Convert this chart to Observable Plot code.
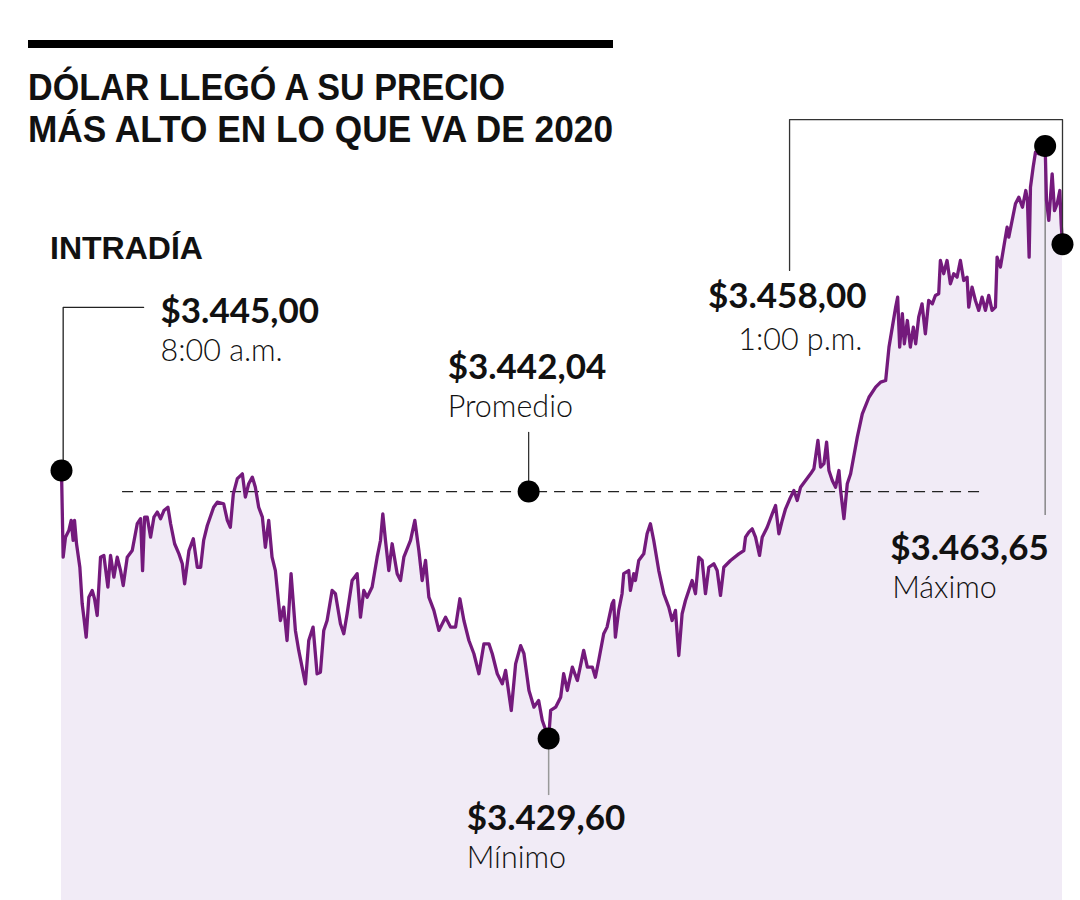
<!DOCTYPE html>
<html lang="es">
<head>
<meta charset="utf-8">
<script src="https://cdn.jsdelivr.net/npm/d3@7"></script>
<script src="https://cdn.jsdelivr.net/npm/@observablehq/plot@0.6"></script>
<style>
  html, body { margin: 0; padding: 0; background: #fff; }
  #wrap { position: relative; width: 1080px; height: 900px; overflow: hidden; }
  #chart { position: absolute; left: 0; top: 0; }
  #overlay { position: absolute; left: 0; top: 0; pointer-events: none; }
</style>
</head>
<body>
<div id="wrap">
  <div id="chart"></div>
  <svg id="overlay" width="1080" height="900"></svg>
</div>
<script>
// ---------------- DATA ----------------
// Minutes after 8:00 a.m. (0 = 8:00 a.m., 300 = 1:00 p.m.)
const minutos = [0,0.5,1.2,2.2,2.9,3.5,3.9,4.5,5.5,6.2,6.7,7.4,8.2,9.2,9.9,10.7,11.7,12.7,13.9,14.7,15.7,16.7,17.7,18.5,19.7,21.2,22.7,23.7,24.3,24.9,25.7,26.7,27.7,28.7,29.7,30.7,31.9,32.7,33.9,35.2,36.2,36.9,38.2,39.5,40.7,41.7,42.6,43.7,45.6,46.7,48.6,49.7,50.6,51.5,52.7,54.2,55.1,56.1,57.2,58.1,59.1,60.2,61.1,62.1,63.1,64.1,65.1,65.6,66.6,67.6,68.8,70.1,71.1,72.1,73.1,74.1,75.4,76.6,77.6,78.6,79.6,81.1,82.1,83.6,84.6,85.6,87.1,88.6,89.6,90.6,91.6,93.1,94.6,95.6,96.3,97.1,98.1,99.1,100.6,101.6,102.6,104.6,105.9,107.1,108.1,109.1,110.1,111.6,113.1,115.1,116.6,118.1,119.4,120.6,122.1,123.6,125.1,126.6,128.1,129.1,130.6,132.1,133.1,134.8,136.1,137.6,138.6,140.1,141.6,143.0,144.1,146.0,146.6,148.1,149.6,150.5,151.6,153.1,154.6,156.5,157.6,159.1,160.0,161.0,162.5,163.5,165.0,165.5,166.0,167.0,168.0,168.5,170.0,170.5,171.5,172.0,173.0,174.5,175.5,176.5,177.5,179.0,180.5,182.0,183.0,184.0,185.0,186.0,187.0,188.0,189.0,190.0,191.0,192.0,193.0,194.0,195.5,196.5,197.5,198.5,200.5,203.0,204.5,205.0,206.0,207.0,208.0,209.2,210.0,211.5,213.0,214.0,215.0,216.0,217.0,218.5,219.5,220.5,221.5,223.0,224.5,225.5,226.7,227.5,228.5,229.3,230.0,231.0,232.0,233.0,233.5,234.5,235.5,236.5,238.5,240.0,242.0,244.0,245.5,247.0,248.0,249.0,250.0,250.6,251.2,252.0,252.6,253.5,254.4,255.3,256.0,256.9,257.9,258.9,259.9,261.0,261.9,262.9,263.4,264.4,265.4,266.4,267.4,268.4,269.4,270.4,271.4,271.9,272.9,273.9,274.9,275.9,276.9,277.9,278.9,279.9,280.4,281.4,282.4,283.4,283.9,284.9,285.9,286.9,288.0,289.0,289.5,290.0,290.4,291.2,291.9,292.9,294.8,295.2,295.9,296.9,297.6,298.4,299.2,299.6,300];

// Dollar price (COP)
const precios = [3445.00,3440.02,3441.17,3441.55,3442.13,3440.98,3442.13,3440.79,3439.44,3437.34,
3436.57,3435.42,3437.72,3438.11,3437.63,3436.67,3440.02,3440.12,3438.30,3440.12,
3438.87,3440.02,3439.25,3438.39,3440.02,3440.40,3441.94,3442.23,3439.25,3442.32,
3442.32,3441.17,3442.32,3442.61,3442.23,3442.70,3442.89,3441.94,3440.79,3440.21,
3439.64,3438.49,3440.40,3441.08,3439.44,3439.44,3440.98,3441.84,3442.89,3443.18,
3443.09,3442.13,3441.74,3443.66,3444.53,3444.81,3443.47,3444.24,3444.62,3444.04,
3442.89,3442.32,3440.59,3442.13,3440.02,3439.25,3437.34,3436.38,3437.15,3435.23,
3439.07,3435.81,3434.66,3433.70,3432.74,3435.23,3436.00,3433.32,3433.41,3435.81,
3436.38,3438.11,3437.92,3436.19,3435.62,3436.77,3438.68,3439.07,3436.57,3438.11,
3437.72,3438.30,3440.02,3440.98,3442.51,3440.98,3439.25,3440.79,3439.07,3438.68,
3440.02,3440.98,3442.13,3440.40,3438.68,3439.83,3437.72,3436.96,3435.81,3436.57,
3436.00,3436.00,3437.63,3436.38,3435.23,3434.47,3433.32,3435.04,3435.04,3434.47,
3433.32,3432.74,3433.51,3431.21,3433.89,3434.94,3434.47,3432.36,3431.40,3431.78,
3430.63,3429.60,3431.21,3431.40,3431.97,3433.32,3432.36,3433.70,3432.93,3434.66,
3433.70,3433.70,3433.12,3434.08,3435.62,3436.00,3437.34,3437.53,3435.42,3436.96,
3437.92,3439.07,3439.25,3438.11,3439.07,3438.68,3439.83,3440.21,3441.36,3441.94,
3440.98,3439.25,3437.92,3437.15,3436.38,3436.96,3434.37,3436.77,3437.53,3438.11,
3438.68,3437.92,3440.02,3439.83,3437.92,3439.44,3439.64,3439.25,3437.82,3439.44,
3439.83,3440.21,3440.40,3441.17,3441.46,3441.65,3441.17,3440.12,3441.17,3441.74,
3442.51,3442.99,3441.36,3442.13,3442.80,3443.47,3443.85,3443.28,3444.04,3444.43,
3444.81,3445.10,3446.73,3445.19,3445.39,3446.63,3445.00,3444.43,3444.04,3445.00,
3443.85,3442.23,3444.24,3444.81,3446.92,3448.26,3449.21,3449.79,3450.08,3450.17,
3452.09,3453.24,3454.39,3454.96,3452.09,3454.01,3452.28,3453.62,3452.09,3453.24,
3452.28,3453.81,3454.58,3452.86,3454.77,3454.58,3455.06,3455.16,3457.07,3456.31,
3457.07,3455.73,3456.31,3456.11,3457.07,3455.92,3456.11,3454.39,3455.54,3454.77,
3454.20,3454.96,3454.20,3455.06,3454.20,3454.39,3457.26,3456.69,3457.84,3458.98,
3458.41,3459.37,3460.33,3460.71,3460.13,3461.09,3460.52,3457.26,3461.28,3462.43,
3463.29,3463.20,3463.65,3460.52,3459.37,3462.05,3459.94,3460.33,3461.09,3459.18,
3458.00];

// Key points (annotations)
const claveNombres    = ["apertura", "promedio", "minimo", "maximo", "cierre"];
const claveMinutos    = [0, 140, 146, 294.8, 300];
const clavePrecios    = [3445.00, 3443.79, 3429.60, 3463.65, 3458.00]; // promedio: level where the dashed line is drawn
const claveValores    = ["$3.445,00", "$3.442,04", "$3.429,60", "$3.463,65", "$3.458,00"];
const claveSubtitulos = ["8:00 a.m.", "Promedio", "Mínimo", "Máximo", "1:00 p.m."];

const titulo1 = "DÓLAR LLEGÓ A SU PRECIO";
const titulo2 = "MÁS ALTO EN LO QUE VA DE 2020";
const subtitulo = "INTRADÍA";

// ---------------- BUILD ----------------
const serie = minutos.map((m, i) => ({minuto: m, precio: precios[i]}));
const claves = claveNombres.map((n, i) => ({
  nombre: n, minuto: claveMinutos[i], precio: clavePrecios[i],
  valor: claveValores[i], sub: claveSubtitulos[i]
}));
const K = Object.fromEntries(claves.map(d => [d.nombre, d]));

const yMin = 3420.29, yMax = 3472.01;
const PURPLE = "#741a7c";
const FILL = "#f1ebf6";
const INK = "#111";
const LFONT = "Lato, 'Open Sans', sans-serif";

// label layout: offset of first baseline from the point, gap to second baseline, second-line shift
const labelLayout = {
  apertura: {dx: 99,   dy: -148, gap: 38, anchor: "start", shift: 0},
  promedio: {dx: -81,  dy: -113, gap: 38, anchor: "start", shift: 0},
  minimo:   {dx: -82,  dy: 92,   gap: 38, anchor: "start", shift: 0},
  maximo:   {dx: -155, dy: 414,  gap: 38, anchor: "start", shift: 2},
  cierre:   {dx: -196, dy: 64,   gap: 42, anchor: "end",   shift: -4}
};

function etiqueta(d) {
  const L = labelLayout[d.nombre];
  return Plot.text([d], {
    x: "minuto", y: "precio", text: e => e.valor + "\n" + e.sub,
    dx: L.dx, dy: L.dy, textAnchor: L.anchor, lineAnchor: "top", lineHeight: 1,
    fontFamily: LFONT, fontWeight: 700, fontSize: 35, fill: INK
  });
}

const plot = Plot.plot({
  width: 1080,
  height: 900,
  margin: 0,
  x: {domain: [0, 300], range: [61, 1062], axis: null},
  y: {domain: [yMin, yMax], range: [900, 0], axis: null},
  style: {background: "transparent", overflow: "visible"},
  marks: [
    Plot.areaY(serie, {x: "minuto", y1: yMin, y2: "precio", fill: FILL}),
    Plot.ruleY([K.promedio], {y: "precio", x1: 18.3, x2: 276.9, stroke: "#222", strokeWidth: 1.3, strokeDasharray: "11,7"}),
    Plot.ruleX([K.maximo], {x: "minuto", y1: "precio", y2: 3442.42, stroke: "#777", strokeWidth: 1.3}),
    Plot.ruleX([K.minimo], {x: "minuto", y1: "precio", y2: 3426.32, stroke: "#999", strokeWidth: 1.5}),
    Plot.line(serie, {x: "minuto", y: "precio", stroke: PURPLE, strokeWidth: 3.3, strokeLinejoin: "round"}),
    Plot.line([{m: 0.5, p: K.apertura.precio}, {m: 0.5, p: 3454.37}, {m: 24.6, p: 3454.37}],
      {x: "m", y: "p", stroke: "#222", strokeWidth: 1.3}),
    Plot.line([{m: 218.2, p: 3456.5}, {m: 218.2, p: 3465.17}, {m: 300, p: 3465.17}, {m: 300, p: K.cierre.precio}],
      {x: "m", y: "p", stroke: "#333", strokeWidth: 1.3}),
    Plot.ruleX([K.promedio], {x: "minuto", y1: "precio", y2: 3447.19, stroke: "#333", strokeWidth: 1.3}),
    Plot.dot(claves, {x: "minuto", y: "precio", r: 11, fill: "#000"}),
    ...claves.map(etiqueta)
  ]
});
document.getElementById("chart").append(plot);

// style the two lines of every label: bold value, light caption
d3.select(plot).selectAll("text").each(function () {
  const tspans = this.querySelectorAll("tspan");
  if (tspans.length !== 2) return;
  const d = claves.find(c => c.valor === tspans[0].textContent);
  if (!d) return;
  const L = labelLayout[d.nombre];
  tspans[0].setAttribute("y", "0");
  tspans[1].removeAttribute("y");
  tspans[1].setAttribute("dy", L.gap + "px");
  tspans[1].setAttribute("x", L.shift);
  tspans[1].style.fontWeight = 300;
  tspans[1].style.fontSize = "30.5px";
});

// ---------------- TITLE OVERLAY ----------------
const ov = d3.select("#overlay");
ov.append("rect").attr("x", 28).attr("y", 40).attr("width", 585).attr("height", 8).attr("fill", "#000");
const tfont = "'Liberation Sans', Arial, sans-serif";
const t = ov.append("text").attr("font-family", tfont).attr("font-weight", 700).attr("font-size", 37).attr("fill", INK);
t.append("tspan").attr("x", 28).attr("y", 100).attr("textLength", 477).attr("lengthAdjust", "spacingAndGlyphs").text(titulo1);
t.append("tspan").attr("x", 28).attr("y", 142).attr("textLength", 585).attr("lengthAdjust", "spacingAndGlyphs").text(titulo2);
ov.append("text").attr("x", 50).attr("y", 259).attr("textLength", 153).attr("lengthAdjust", "spacingAndGlyphs")
  .attr("font-family", tfont).attr("font-weight", 700).attr("font-size", 32).attr("fill", INK).text(subtitulo);
</script>
</body>
</html>
